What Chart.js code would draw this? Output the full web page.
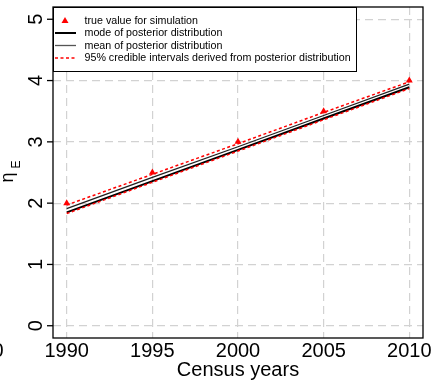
<!DOCTYPE html>
<html>
<head>
<meta charset="utf-8">
<title>eta_E by census year</title>
<script src="https://cdn.jsdelivr.net/npm/chart.js@4.4.0/dist/chart.umd.min.js"></script>
<style>
  html, body { margin: 0; padding: 0; background: #fff; }
  #graph { display: block; }
</style>
</head>
<body>
<canvas id="graph" width="433" height="380"></canvas>
<script>
// census years and the posterior summaries for eta_E
const years = [1990, 1995, 2000, 2005, 2010];
const trueValue = [2.0, 2.5, 3.0, 3.5, 4.0];
const modePost = [1.85, 2.36, 2.87, 3.38, 3.89];
const meanPost = [1.91, 2.42, 2.92, 3.43, 3.94];
const ciUpper = [1.97, 2.47, 2.97, 3.48, 3.98];
const ciLower = [1.83, 2.34, 2.85, 3.36, 3.87];

const xTicks = [1990, 1995, 2000, 2005, 2010];
const yTicks = [0, 1, 2, 3, 4, 5];

const FONT = '"Liberation Sans", Arial, Helvetica, sans-serif';
const RED = '#ff0000';

function pts(vals) {
    return years.map((y, i) => ({ x: y, y: vals[i] }));
}

// R-style decorations: box, rotated y labels, legend box
const basePlot = {
    id: 'basePlot',
    afterDraw(chart) {
        const c = chart.ctx;
        const a = chart.chartArea;
        const xs = chart.scales.x;
        const ys = chart.scales.y;

        c.save();
        // frame
        c.strokeStyle = '#000';
        c.lineWidth = 1.3;
        c.strokeRect(a.left, a.top, a.right - a.left, a.bottom - a.top);

        // y ticks + rotated labels
        c.fillStyle = '#000';
        c.font = '20px ' + FONT;
        yTicks.forEach(v => {
            const py = ys.getPixelForValue(v);
            c.beginPath();
            c.moveTo(a.left - 6, py);
            c.lineTo(a.left, py);
            c.stroke();
            c.save();
            c.translate(41.5, py);
            c.rotate(-Math.PI / 2);
            c.textAlign = 'center';
            c.textBaseline = 'alphabetic';
            c.fillText(String(v), 0, 0);
            c.restore();
        });

        // x labels
        c.textAlign = 'center';
        c.textBaseline = 'alphabetic';
        xTicks.forEach(v => {
            c.fillText(String(v), xs.getPixelForValue(v), 357);
        });
        c.fillText('0', -2, 357);
        c.fillText('Census years', (a.left + a.right) / 2, 376);

        // y title: eta with subscript E
        c.save();
        c.translate(13, 177.5);
        c.rotate(-Math.PI / 2);
        c.font = '18px ' + FONT;
        c.fillText('\u03b7', 0, 0);
        c.restore();
        c.save();
        c.translate(20.3, 164.5);
        c.rotate(-Math.PI / 2);
        c.font = '12px ' + FONT;
        c.fillText('E', 0, 0);
        c.restore();

        // legend
        const lx = a.left, ly = a.top, lw = 303, lh = 64;
        c.fillStyle = '#fff';
        c.fillRect(lx, ly, lw, lh);
        c.strokeStyle = '#000';
        c.lineWidth = 1;
        c.strokeRect(lx + 0.5, ly + 0.5, lw, lh);

        const rows = [13.5, 26, 38.5, 51];
        const ds = chart.data.datasets;
        c.font = '10.7px ' + FONT;
        c.textAlign = 'left';
        c.textBaseline = 'middle';
        ds.forEach((d, i) => {
            if (d.legendSkip) return;
            const ry = ly + d.legendRow;
            if (d.showLine === false) {
                c.fillStyle = RED;
                c.beginPath();
                c.moveTo(65, ry - 3.5);
                c.lineTo(68.5, ry + 2.5);
                c.lineTo(61.5, ry + 2.5);
                c.closePath();
                c.fill();
            } else {
                c.strokeStyle = d.legendColor || d.borderColor;
                c.lineWidth = d.borderWidth;
                c.setLineDash(d.borderDash || []);
                c.beginPath();
                c.moveTo(55, ry);
                c.lineTo(76, ry);
                c.stroke();
                c.setLineDash([]);
            }
            c.fillStyle = '#000';
            c.fillText(d.label, 84.5, ry + 0.5);
        });
        c.restore();
    }
};

const chart = new Chart(document.getElementById('graph').getContext('2d'), {
    type: 'line',
    data: {
        datasets: [
            {
                label: '95% credible intervals derived from posterior distribution',
                data: pts(ciUpper),
                borderColor: RED,
                borderWidth: 1.5,
                borderDash: [3, 2.5],
                pointRadius: 0,
                legendRow: 51
            },
            {
                label: 'lower',
                data: pts(ciLower),
                borderColor: RED,
                borderWidth: 1.5,
                borderDash: [3, 2.5],
                pointRadius: 0,
                legendSkip: true
            },
            {
                label: 'mean of posterior distribution',
                data: pts(meanPost),
                borderColor: '#222',
                legendColor: '#555',
                borderWidth: 1.3,
                pointRadius: 0,
                legendRow: 38.5
            },
            {
                label: 'mode of posterior distribution',
                data: pts(modePost),
                borderColor: '#000',
                borderWidth: 2,
                pointRadius: 0,
                legendRow: 26
            },
            {
                label: 'true value for simulation',
                data: pts(trueValue),
                showLine: false,
                pointStyle: 'triangle',
                pointRadius: 4,
                backgroundColor: RED,
                borderColor: RED,
                borderWidth: 0,
                legendRow: 13.5
            }
        ]
    },
    options: {
        responsive: false,
        animation: false,
        layout: { padding: { left: 53, top: 7, right: 10, bottom: 42 } },
        plugins: {
            legend: { display: false },
            tooltip: { enabled: false }
        },
        scales: {
            x: {
                type: 'linear',
                min: 1989.2,
                max: 2010.8,
                afterBuildTicks: s => { s.ticks = xTicks.map(v => ({ value: v })); },
                ticks: { display: false },
                grid: { color: '#d2d2d2', lineWidth: 1.2, drawTicks: false },
                border: { display: false, dash: [8, 5] }
            },
            y: {
                min: -0.2,
                max: 5.2,
                afterBuildTicks: s => { s.ticks = yTicks.map(v => ({ value: v })); },
                ticks: { display: false },
                grid: { color: '#d2d2d2', lineWidth: 1.2, drawTicks: false },
                border: { display: false, dash: [8, 5] }
            }
        }
    },
    plugins: [basePlot]
});
</script>
</body>
</html>
